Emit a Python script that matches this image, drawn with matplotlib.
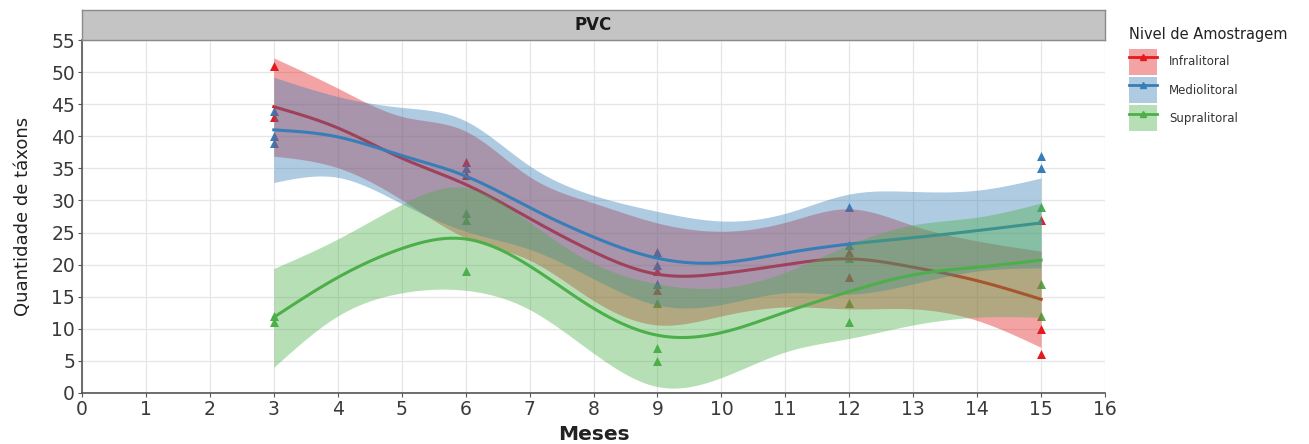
import numpy as np
import matplotlib
matplotlib.use("Agg")
import matplotlib.pyplot as plt
from matplotlib.patches import Patch
from matplotlib.lines import Line2D

plt.rcParams["font.family"] = ["DejaVu Sans"]

# Smoothed trend (fit) and confidence band, sampled at each month
months = [3, 4, 5, 6, 7, 8, 9, 10, 11, 12, 13, 14, 15]

infra_fit = [44.6, 41.3, 36.6, 32.5, 27.2, 22.0, 18.5, 18.6, 20.0, 20.9, 19.6, 17.5, 14.6]
infra_lo = [36.9, 35.1, 30.1, 24.2, 20.7, 14.4, 10.6, 12.0, 13.4, 13.1, 13.1, 11.3, 7.1]
infra_hi = [52.2, 47.5, 43.1, 40.8, 33.7, 29.6, 26.5, 25.2, 26.6, 28.7, 26.1, 23.7, 22.1]

medio_fit = [41.0, 39.9, 37.0, 33.8, 28.9, 24.3, 21.0, 20.3, 21.8, 23.2, 24.2, 25.3, 26.5]
medio_lo = [32.8, 33.6, 29.5, 25.2, 22.4, 17.8, 13.7, 13.8, 15.6, 15.4, 17.0, 19.0, 19.5]
medio_hi = [49.2, 46.2, 44.5, 42.4, 35.4, 30.8, 28.3, 26.8, 28.0, 31.0, 31.4, 31.6, 33.5]

supra_fit = [11.8, 18.0, 22.5, 24.0, 19.8, 13.2, 9.0, 9.4, 12.6, 15.8, 18.4, 19.6, 20.7]
supra_lo = [4.0, 12.0, 15.6, 16.0, 13.0, 6.2, 1.0, 2.4, 6.4, 8.5, 10.6, 11.8, 11.8]
supra_hi = [19.4, 24.0, 29.4, 32.0, 26.6, 20.2, 17.0, 16.4, 18.8, 23.1, 26.2, 27.4, 29.6]

# Observed number of taxa per sample
infra_x = [3, 3, 6, 6, 9, 9, 12, 12, 15, 15, 15]
infra_y = [51, 43, 36, 34, 19, 16, 22, 18, 27, 10, 6]
medio_x = [3, 3, 3, 6, 9, 9, 9, 12, 12, 15, 15]
medio_y = [44, 40, 39, 35, 22, 20, 17, 29, 23, 37, 35]
supra_x = [3, 3, 6, 6, 6, 9, 9, 9, 12, 12, 12, 15, 15, 15]
supra_y = [12, 11, 28, 27, 19, 14, 7, 5, 21, 14, 11, 29, 17, 12]

levels = ["Infralitoral", "Mediolitoral", "Supralitoral"]
colors = ["#E41A1C", "#377EB8", "#4DAF4A"]


def natural_spline(x, y, xs):
    x = np.asarray(x, float)
    y = np.asarray(y, float)
    n = len(x)
    h = np.diff(x)
    A = np.zeros((n, n))
    b = np.zeros(n)
    A[0, 0] = A[-1, -1] = 1.0
    for i in range(1, n - 1):
        A[i, i - 1] = h[i - 1]
        A[i, i] = 2 * (h[i - 1] + h[i])
        A[i, i + 1] = h[i]
        b[i] = 6 * ((y[i + 1] - y[i]) / h[i] - (y[i] - y[i - 1]) / h[i - 1])
    M = np.linalg.solve(A, b)
    idx = np.clip(np.searchsorted(x, xs) - 1, 0, n - 2)
    x0, x1 = x[idx], x[idx + 1]
    hh = x1 - x0
    t0 = x1 - xs
    t1 = xs - x0
    return (M[idx] * t0 ** 3 / (6 * hh) + M[idx + 1] * t1 ** 3 / (6 * hh)
            + (y[idx] / hh - M[idx] * hh / 6) * t0
            + (y[idx + 1] / hh - M[idx + 1] * hh / 6) * t1)


W, H = 1309, 444
fig = plt.figure(figsize=(W / 100, H / 100), dpi=100)
left, right = 82 / W, 1105 / W
bottom, top = 1 - 393 / H, 1 - 40 / H
ax = fig.add_axes([left, bottom, right - left, top - bottom])

ax.set_xlim(0, 16)
ax.set_ylim(0, 55)
ax.set_xticks(range(0, 17))
ax.set_yticks(range(0, 56, 5))
ax.grid(True, color="#e6e6e6", linewidth=0.9, zorder=0)
ax.set_axisbelow(True)
for s in ["top", "right"]:
    ax.spines[s].set_visible(False)
for s in ["left", "bottom"]:
    ax.spines[s].set_color("#555555")
    ax.spines[s].set_linewidth(1.2)
ax.tick_params(axis="both", labelsize=13.5, colors="#555555", length=3,
               labelcolor="#3a3a3a", pad=2)

# Points sit underneath the smoothing layers
for xs_, ys_, c in [(infra_x, infra_y, colors[0]), (medio_x, medio_y, colors[1]),
                    (supra_x, supra_y, colors[2])]:
    ax.scatter(xs_, ys_, marker="^", s=42, color=c, zorder=2, linewidths=0)

xx = np.linspace(3, 15, 300)
z = 3
for fit, lo, hi, c in [(infra_fit, infra_lo, infra_hi, colors[0]),
                       (medio_fit, medio_lo, medio_hi, colors[1]),
                       (supra_fit, supra_lo, supra_hi, colors[2])]:
    ax.fill_between(xx, natural_spline(months, lo, xx), natural_spline(months, hi, xx),
                    color=c, alpha=0.4, linewidth=0, zorder=z)
    ax.plot(xx, natural_spline(months, fit, xx), color=c, linewidth=2.2, zorder=z + 1)
    z += 2

ax.set_xlabel("Meses", fontsize=14.5, fontweight="bold", color="#222222", labelpad=4)
ax.set_ylabel("Quantidade de táxons", fontsize=13, color="#222222", labelpad=14)

# Facet strip
strip = fig.add_axes([left, 1 - 40 / H, right - left, 30 / H])
strip.set_facecolor("#c4c4c4")
strip.set_xticks([])
strip.set_yticks([])
for s in strip.spines.values():
    s.set_color("#8a8a8a")
    s.set_linewidth(1.0)
strip.text(0.5, 0.5, "PVC", ha="center", va="center", fontsize=12,
           fontweight="bold", color="#1a1a1a", transform=strip.transAxes)

handles = [(Patch(facecolor=c, alpha=0.4, edgecolor="none"),
            Line2D([], [], color=c, linewidth=2, marker="^", markersize=5))
           for c in colors]
leg = fig.legend(handles, levels, loc="upper left", bbox_to_anchor=(1129 / W, 1 - 27 / H),
                 frameon=False, fontsize=8.5, title="Nivel de Amostragem",
                 title_fontsize=10.5, handlelength=2.4, handleheight=3.0,
                 labelspacing=0.2, handletextpad=1.0, borderaxespad=0, borderpad=0)
leg._legend_box.align = "left"
leg._legend_box.sep = 5
for t in leg.get_texts():
    t.set_color("#333333")
leg.get_title().set_color("#222222")

fig.savefig("out.png", dpi=100)
